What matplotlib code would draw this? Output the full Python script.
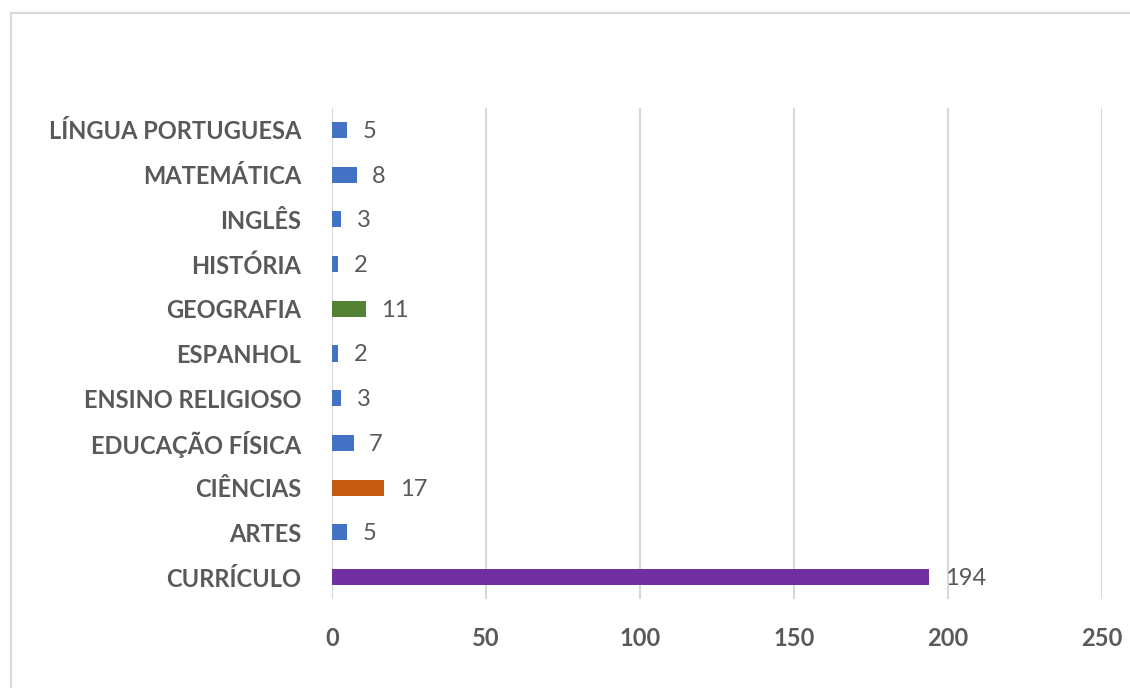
import matplotlib.pyplot as plt
from matplotlib.patches import Rectangle

# categories, bottom to top
categories = ['CURRÍCULO', 'ARTES', 'CIÊNCIAS', 'EDUCAÇÃO FÍSICA', 'ENSINO RELIGIOSO',
              'ESPANHOL', 'GEOGRAFIA', 'HISTÓRIA', 'INGLÊS', 'MATEMÁTICA', 'LÍNGUA PORTUGUESA']
values = [194, 5, 17, 7, 3, 2, 11, 2, 3, 8, 5]
colors = ['#7030A0', '#4472C4', '#C55A11', '#4472C4', '#4472C4',
          '#4472C4', '#548235', '#4472C4', '#4472C4', '#4472C4', '#4472C4']
x_ticks = [0, 50, 100, 150, 200, 250]

plt.rcParams['font.family'] = ['Lato', 'DejaVu Sans']
text_color = '#595959'
grid_color = '#d9d9d9'

fig = plt.figure(figsize=(11.3, 6.88), dpi=100)
ax = fig.add_axes([0.2938, 0.1288, 0.975 - 0.2938, 0.8436 - 0.1288])

# outer chart frame (cut off at right and bottom, as in the reference)
fig.patches.append(Rectangle((11 / 1130, -0.05), 1.1, 1 - 13 / 688 + 0.05,
                             transform=fig.transFigure, fill=False,
                             edgecolor=grid_color, linewidth=1.5))

ypos = range(len(categories))
ax.barh(ypos, values, height=0.36, color=colors, zorder=3)

for y, v in zip(ypos, values):
    ax.annotate(str(v), (v, y), xytext=(11, -1), textcoords='offset points',
                va='center', ha='left', fontsize=17, color=text_color)

ax.set_xlim(0, 250)
ax.set_ylim(-0.5, len(categories) - 0.5)
ax.set_xticks(x_ticks)
ax.set_yticks(list(ypos))
ax.set_yticklabels(categories)
ax.tick_params(axis='both', length=0, colors=text_color, labelsize=17)
ax.tick_params(axis='x', pad=20)
ax.tick_params(axis='y', pad=22)
for lbl in ax.get_xticklabels() + ax.get_yticklabels():
    lbl.set_fontweight('bold')

ax.grid(axis='x', color=grid_color, linewidth=1.5, zorder=0)
for s in ax.spines.values():
    s.set_visible(False)

fig.savefig('out.png', dpi=100)
